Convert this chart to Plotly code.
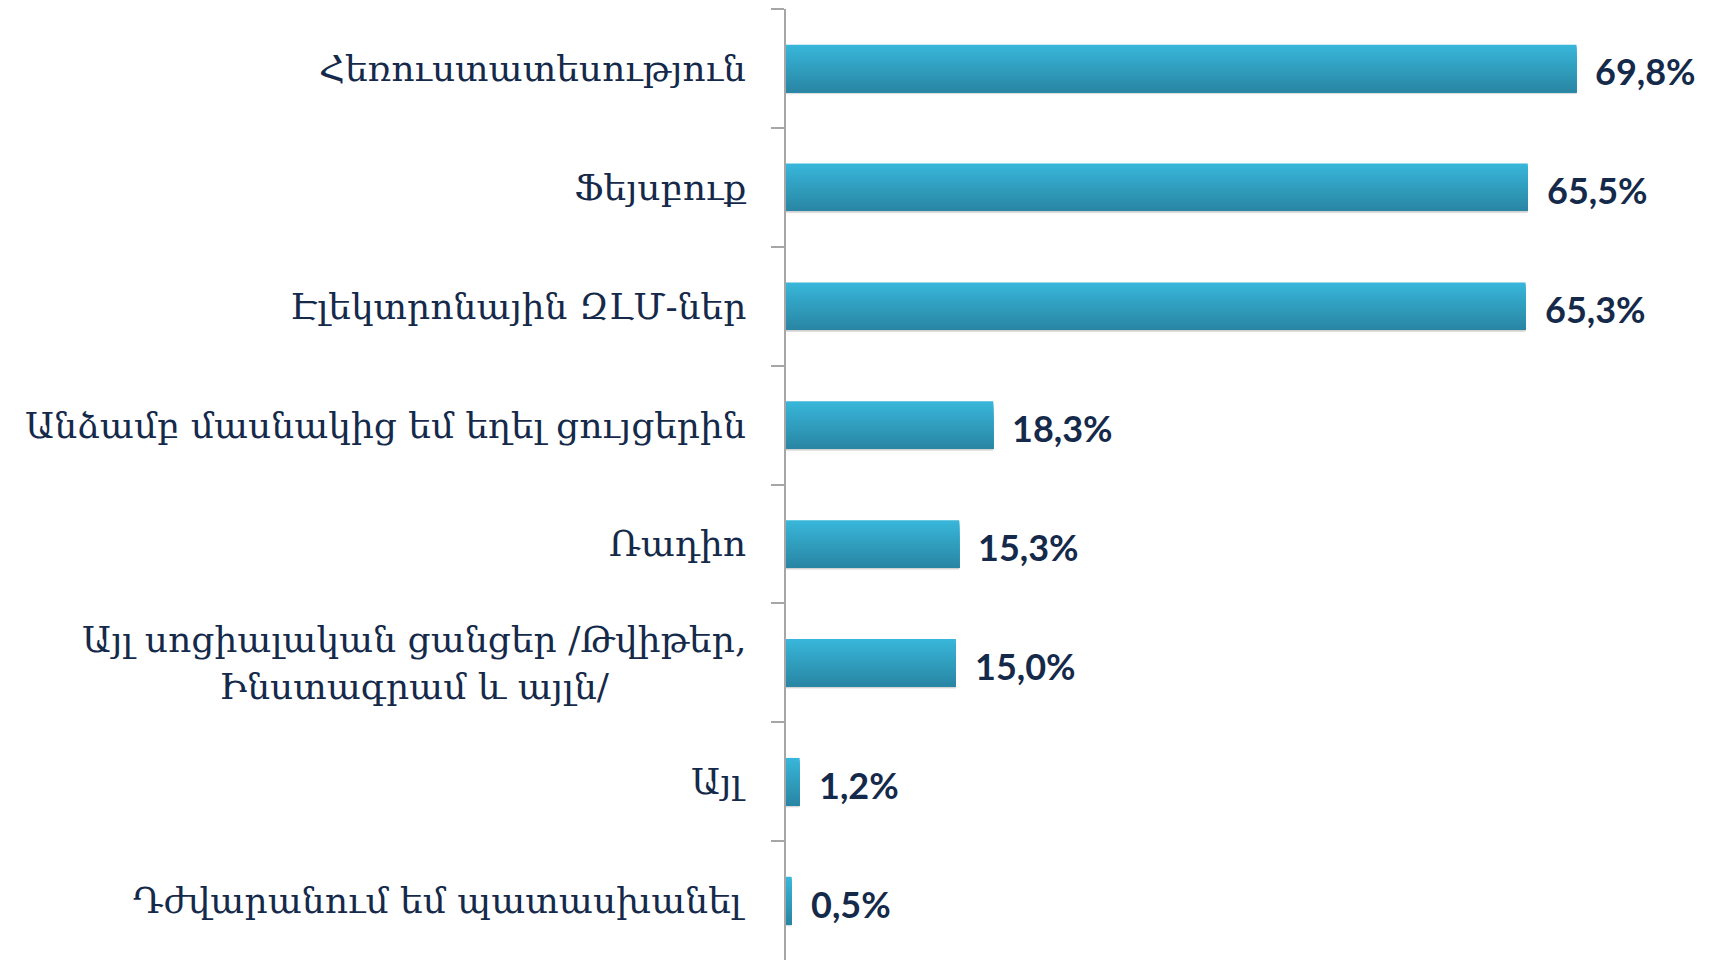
import plotly.graph_objects as go

categories = [
    "Հեռուստատեսություն",
    "Ֆեյսբուք",
    "Էլեկտրոնային ԶԼՄ-ներ",
    "Անձամբ մասնակից եմ եղել ցույցերին",
    "Ռադիո",
    "Այլ սոցիալական ցանցեր /Թվիթեր,<br>Ինստագրամ և այլն/",
    "Այլ",
    "Դժվարանում եմ պատասխանել",
]
values = [69.8, 65.5, 65.3, 18.3, 15.3, 15.0, 1.2, 0.5]
value_labels = ["69,8%", "65,5%", "65,3%", "18,3%", "15,3%", "15,0%", "1,2%", "0,5%"]

NAVY = "#152a4a"
top_rgb = (56, 182, 217)
bot_rgb = (41, 134, 164)

fig = go.Figure()

BAR_W = 0.4
# soft shadow beneath bars
for k, a in enumerate([0.05, 0.07, 0.09]):
    fig.add_trace(go.Bar(
        y=categories, x=values, orientation="h",
        width=BAR_W, offset=-BAR_W / 2 + 0.006 + 0.006 * k,
        marker=dict(color=f"rgba(0,0,0,{a})", line=dict(width=0)),
        hoverinfo="skip", showlegend=False,
    ))

# vertical gradient built from thin strips
N = 24
step = BAR_W / N
for j in range(N):
    t = j / (N - 1)
    c = tuple(round(top_rgb[i] + (bot_rgb[i] - top_rgb[i]) * t) for i in range(3))
    fig.add_trace(go.Bar(
        y=categories, x=values, orientation="h",
        width=BAR_W - j * step,
        offset=-BAR_W / 2 + j * step,
        marker=dict(color=f"rgb{c}", line=dict(width=0)),
        hoverinfo="skip", showlegend=False,
    ))

# value labels
for cat, v, lab in zip(categories, values, value_labels):
    fig.add_annotation(
        x=v, y=cat, xref="x", yref="y", text=lab, showarrow=False,
        xanchor="left", xshift=17, yshift=-3,
        font=dict(family="Lato", size=36, color=NAVY, weight="bold"),
    )

# category labels
for cat in categories:
    fig.add_annotation(
        x=0, y=cat, xref="paper", yref="y", text=cat, showarrow=False,
        xanchor="right", align="center", xshift=-38,
        font=dict(family="DejaVu Serif", size=36, color=NAVY),
    )

fig.update_layout(
    barmode="overlay",
    width=1711, height=952,
    margin=dict(l=778, r=27, t=1, b=0),
    paper_bgcolor="white", plot_bgcolor="white",
    xaxis=dict(range=[0, 80], visible=False),
    yaxis=dict(
        type="category", autorange="reversed",
        showticklabels=False, showgrid=False, zeroline=False,
        showline=True, linecolor="#a6a6a6", linewidth=1.5,
        ticks="outside", tickson="boundaries", ticklen=13,
        tickcolor="#a6a6a6", tickwidth=1.5,
    ),
)

fig.write_html("out.html")
